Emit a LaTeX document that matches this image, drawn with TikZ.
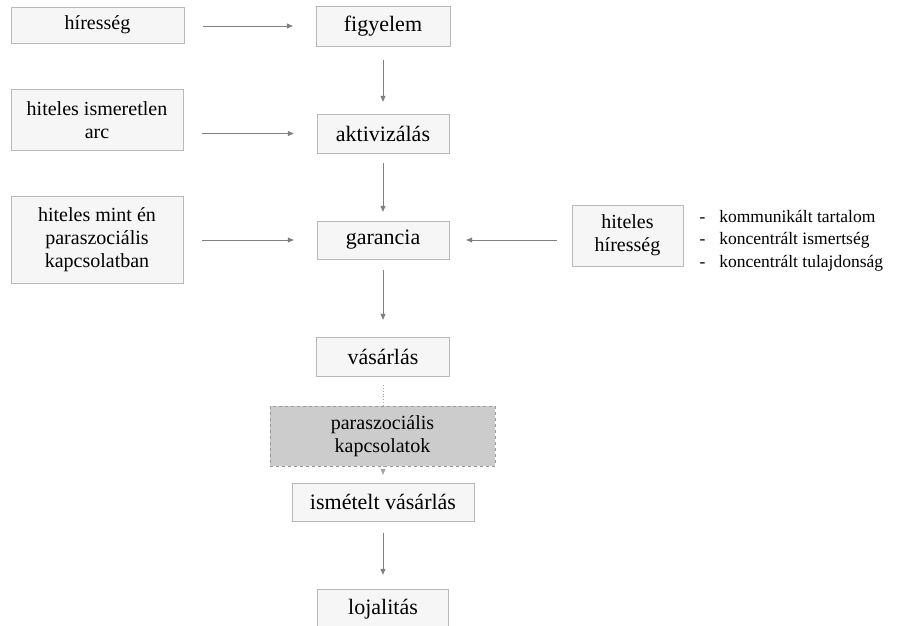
\documentclass[tikz,border=0pt]{standalone}
\usepackage{fontspec}
\setmainfont{Liberation Serif}
\usetikzlibrary{arrows.meta}

\begin{document}
\begin{tikzpicture}[x=1pt,y=-1pt,
  box/.style={draw=gray!55,fill=gray!7,inner sep=0pt,align=center,font=\fontsize{22}{24}\selectfont},
  sidebox/.style={box,font=\fontsize{20}{23}\selectfont},
  link/.style={draw=gray,line width=0.8pt,-{Triangle[length=6pt,width=5pt]},shorten <=11pt,shorten >=12pt},
  sidelink/.style={link,shorten <=19pt,shorten >=23pt}]
\useasboundingbox (0,0) rectangle (911,626);
% main chain
\node[box,minimum width=134pt,minimum height=40pt] (figyelem) at (383,26) {figyelem};
\node[box,minimum width=132pt,minimum height=39pt] (aktiv) at (383,133.5) {aktivizálás};
\node[box,minimum width=132pt,minimum height=38pt] (garancia) at (383,240) {garancia};
\node[box,minimum width=133pt,minimum height=39pt] (vasarlas) at (383,356.5) {vásárlás};
\node[box,minimum width=182pt,minimum height=38pt] (ismetelt) at (383,502) {ismételt vásárlás};
\node[box,minimum width=131pt,minimum height=40pt] (lojal) at (383,609) {lojalitás};
% side boxes
\node[sidebox,minimum width=173pt,minimum height=36pt] (hir) at (97.5,25) {híresség};
\node[sidebox,minimum width=172pt,minimum height=61pt] (ismeretlen) at (97,120) {hiteles ismeretlen\\arc};
\node[sidebox,minimum width=172pt,minimum height=87pt] (mintel) at (97,239.5) {hiteles mint én\\paraszociális\\kapcsolatban};
\node[sidebox,minimum width=111pt,minimum height=61pt] (hithir) at (627.5,235.5) {hiteles\\híresség};
\node[anchor=west,align=left,font=\fontsize{17.5}{22.5}\selectfont] (jegyek) at (696,240.5)
  {-\hspace{14pt}kommunikált tartalom\\-\hspace{14pt}koncentrált ismertség\\-\hspace{14pt}koncentrált tulajdonság};
% arrows
\draw[sidelink] (hir.east |- figyelem) -- (figyelem);
\draw[sidelink] (ismeretlen.east |- aktiv) -- (aktiv);
\draw[sidelink] (mintel.east |- garancia) -- (garancia);
\draw[link,shorten <=15pt,shorten >=17pt] (hithir.west |- garancia) -- (garancia.east);
\draw[link,shorten <=14pt] (figyelem) -- (aktiv);
\draw[link,shorten <=10pt,shorten >=9pt] (aktiv) -- (garancia);
\draw[link,shorten >=17pt] (garancia) -- (vasarlas);
\draw[link,draw=gray!70,dotted,shorten <=9pt,shorten >=8pt] (vasarlas) -- (ismetelt);
\draw[link,shorten <=12pt,shorten >=14pt] (ismetelt) -- (lojal);
\node[box,draw=gray!80,dashed,fill=gray!40,minimum width=225pt,minimum height=60pt,font=\fontsize{20}{23}\selectfont] (paraszoc) at (382.5,436) {paraszociális\\kapcsolatok};
\end{tikzpicture}
\end{document}
